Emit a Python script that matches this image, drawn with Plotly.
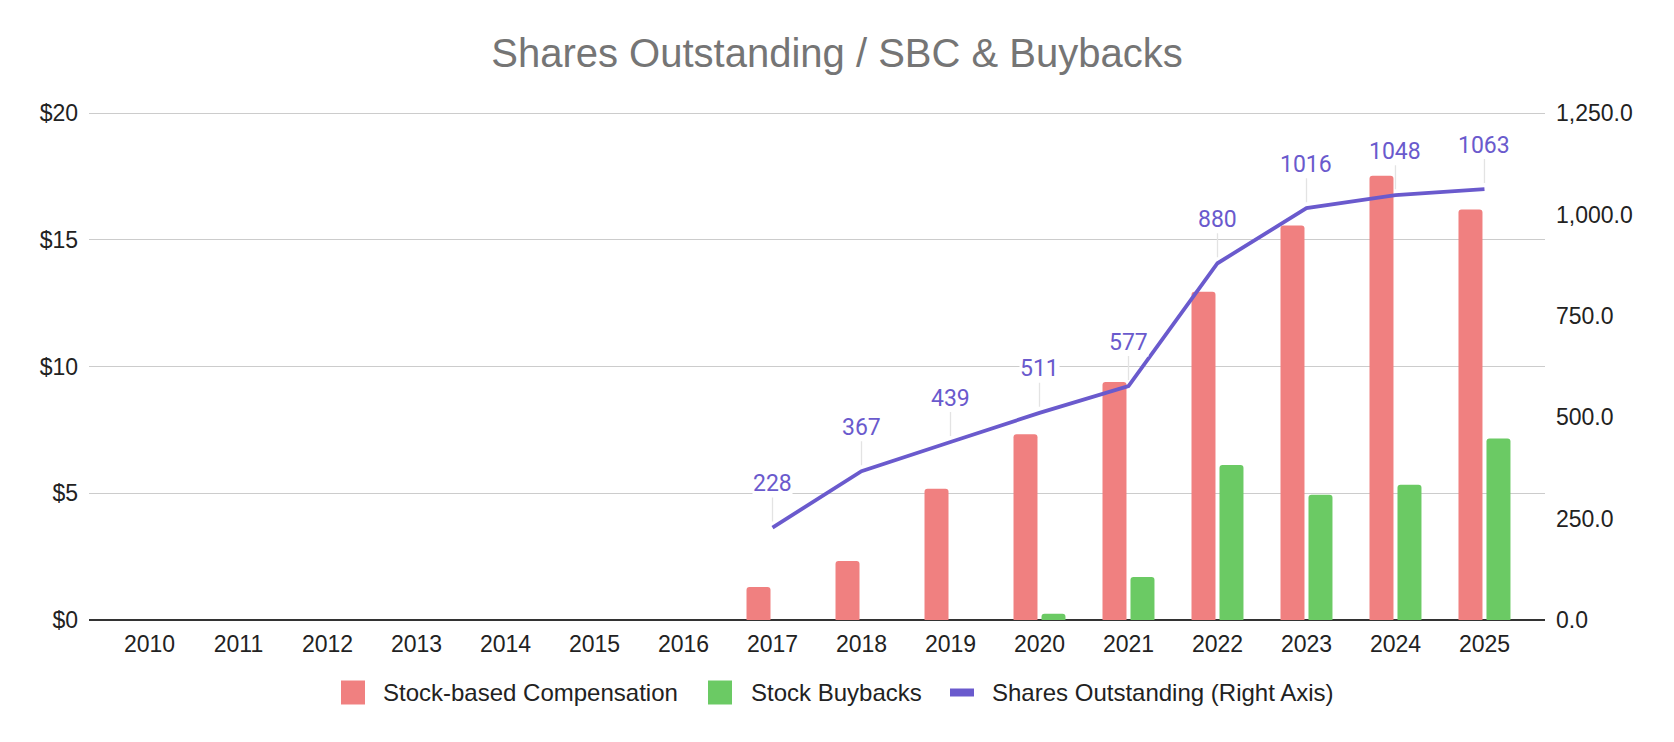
import plotly.graph_objects as go

years = [str(y) for y in range(2010, 2026)]
sbc = [None, None, None, None, None, None, None, 1.3, 2.33, 5.18, 7.33, 9.39, 12.96, 15.57, 17.53, 16.2]
buybacks = [None, None, None, None, None, None, None, None, None, None, 0.25, 1.7, 6.12, 4.94, 5.34, 7.16]
shares = [None, None, None, None, None, None, None, 228, 367, 439, 511, 577, 880, 1016, 1048, 1063]
series_names = ["Stock-based Compensation", "Stock Buybacks", "Shares Outstanding (Right Axis)"]

RED = "#f08080"
GREEN = "#6bca64"
PURPLE = "#6a5acd"
TXT = "#222222"

W, H = 1674, 742
ML, MR, MT, MB = 89, 129, 112, 122
PW, PH = W - ML - MR, H - MT - MB


def px_to_paper(px, py):
    return (px - ML) / PW, (H - MB - py) / PH


fig = go.Figure()
fig.add_trace(go.Bar(x=years, y=sbc, name=series_names[0], showlegend=False,
                     marker=dict(color=RED, cornerradius=3, line=dict(width=0))))
fig.add_trace(go.Bar(x=years, y=buybacks, name=series_names[1], showlegend=False,
                     marker=dict(color=GREEN, cornerradius=3, line=dict(width=0))))
fig.add_trace(go.Scatter(x=years, y=shares, name=series_names[2], showlegend=False,
                         yaxis="y2", mode="lines", line=dict(color=PURPLE, width=3.8)))

# data labels with leader lines
for i, v in enumerate(shares):
    if v is None:
        continue
    fig.add_annotation(x=i, y=v, xref="x", yref="y2", text=str(v),
                       showarrow=True, arrowhead=0, arrowwidth=1.3, arrowcolor="#e3e3e3",
                       ax=0, ay=-44, standoff=6, bgcolor="white", borderpad=0,
                       font=dict(family="Roboto", size=23, color=PURPLE))

# custom legend (swatches + labels)
legend_items = [
    ("rect", RED, 341, 365, 381),
    ("rect", GREEN, 708, 732, 749),
    ("line", PURPLE, 950, 974, 990),
]
LY = 692.5
for (kind, col, x0, x1, tx), name in zip(legend_items, series_names):
    if kind == "rect":
        px0, py0 = px_to_paper(x0, LY - 12)
        px1, py1 = px_to_paper(x1, LY + 12)
    else:
        px0, py0 = px_to_paper(x0, LY - 4)
        px1, py1 = px_to_paper(x1, LY + 4)
    fig.add_shape(type="rect", xref="paper", yref="paper", x0=px0, x1=px1, y0=py1, y1=py0,
                  fillcolor=col, line=dict(width=0), layer="above")
    tx_p, ty_p = px_to_paper(tx, LY)
    fig.add_annotation(x=tx_p, y=ty_p, xref="paper", yref="paper", text=name, showarrow=False,
                       xanchor="left", yanchor="middle",
                       font=dict(family="Liberation Sans, Arial", size=24, color=TXT))

fig.update_layout(
    width=W, height=H,
    margin=dict(l=ML, r=MR, t=MT, b=MB),
    paper_bgcolor="white", plot_bgcolor="white",
    font=dict(family="Liberation Sans, Arial", size=23, color=TXT),
    title=dict(text="Shares Outstanding / SBC & Buybacks", x=0.5, xanchor="center",
               y=1 - 53 / 742, yanchor="middle", yref="container",
               font=dict(family="Liberation Sans, Arial", size=40, color="#757575")),
    barmode="group", bargap=0.371, bargroupgap=0.143,
    showlegend=False,
    xaxis=dict(type="category", range=[-0.68, 15.68], showgrid=False, ticks="",
               showline=False, zeroline=False, tickfont=dict(size=23, color=TXT),
               ticklabelstandoff=8, automargin=False),
    yaxis=dict(range=[0, 20.05], tickvals=[0, 5, 10, 15, 20], ticktext=["$0", "$5", "$10", "$15", "$20"],
               showgrid=True, gridcolor="#cccccc", gridwidth=1.3, zeroline=True,
               zerolinecolor="#333333", zerolinewidth=2, ticks="", ticklabelstandoff=10,
               tickfont=dict(size=23, color=TXT), automargin=False),
    yaxis2=dict(range=[0, 1250 * 20.05 / 20], tickvals=[0, 250, 500, 750, 1000, 1250], tickformat=",.1f",
                overlaying="y", side="right", showgrid=False, zeroline=False, ticks="",
                ticklabelstandoff=10, tickfont=dict(size=23, color=TXT), automargin=False),
)

fig.write_html("out.html", config={"displayModeBar": False},
               post_script="document.body.style.margin='0';document.body.style.overflow='hidden';")
